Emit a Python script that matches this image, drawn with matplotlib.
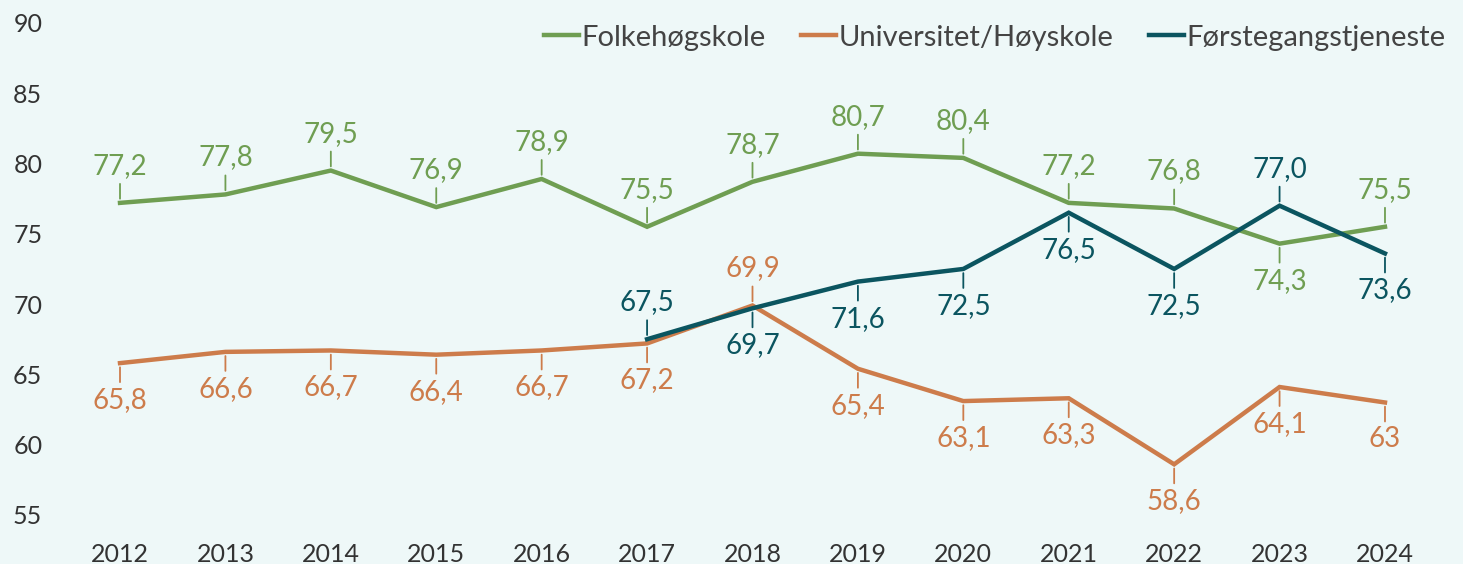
import matplotlib.pyplot as plt

years = list(range(2012, 2025))

folk = [77.2, 77.8, 79.5, 76.9, 78.9, 75.5, 78.7, 80.7, 80.4, 77.2, 76.8, 74.3, 75.5]
folk_lbl = ["77,2", "77,8", "79,5", "76,9", "78,9", "75,5", "78,7", "80,7", "80,4", "77,2", "76,8", "74,3", "75,5"]
folk_side = [1, 1, 1, 1, 1, 1, 1, 1, 1, 1, 1, -1, 1]

uni = [65.8, 66.6, 66.7, 66.4, 66.7, 67.2, 69.9, 65.4, 63.1, 63.3, 58.6, 64.1, 63.0]
uni_lbl = ["65,8", "66,6", "66,7", "66,4", "66,7", "67,2", "69,9", "65,4", "63,1", "63,3", "58,6", "64,1", "63"]
uni_side = [-1, -1, -1, -1, -1, -1, 1, -1, -1, -1, -1, -1, -1]

forst_years = list(range(2017, 2025))
forst = [67.5, 69.7, 71.6, 72.5, 76.5, 72.5, 77.0, 73.6]
forst_lbl = ["67,5", "69,7", "71,6", "72,5", "76,5", "72,5", "77,0", "73,6"]
forst_side = [1, -1, -1, -1, -1, -1, 1, -1]

GREEN = "#6f9e52"
ORANGE = "#cd7c4b"
TEAL = "#0b5560"
BG = "#eef8f8"

plt.rcParams['font.family'] = ['Lato', 'DejaVu Sans']

fig = plt.figure(figsize=(14.63, 5.64), dpi=100, facecolor=BG)
ax = fig.add_axes([0.046, 0.087, 0.9367, 0.8723], facecolor=BG)

series = [
    (years, folk, folk_lbl, folk_side, GREEN, "Folkehøgskole"),
    (years, uni, uni_lbl, uni_side, ORANGE, "Universitet/Høyskole"),
    (forst_years, forst, forst_lbl, forst_side, TEAL, "Førstegangstjeneste"),
]

for xs, ys, lbls, sides, col, name in series:
    ax.plot(xs, ys, color=col, lw=3.2, label=name, solid_joinstyle='miter', zorder=3)
    for x, y, t, s in zip(xs, ys, lbls, sides):
        # short leader line, then the value
        ax.annotate('', xy=(x, y), xytext=(0, 19 * s), textcoords='offset pixels',
                    arrowprops=dict(arrowstyle='-', color=col, lw=1.3, shrinkA=0, shrinkB=3),
                    annotation_clip=False)
        ax.annotate(t, xy=(x, y), xytext=(0, 37 * s), textcoords='offset pixels',
                    ha='center', va='center', fontsize=20, color=col,
                    annotation_clip=False)

ax.set_xlim(2011.5, 2024.5)
ax.set_ylim(55, 90)
ax.set_yticks(range(55, 91, 5))
ax.set_xticks(years)
ax.tick_params(axis='both', length=0, labelsize=18, colors='#333333')
ax.tick_params(axis='y', pad=18)
ax.tick_params(axis='x', pad=20)
for sp in ax.spines.values():
    sp.set_visible(False)

ax.legend(loc='upper right', bbox_to_anchor=(1.025, 1.05), frameon=False, ncol=3,
          fontsize=21, handlelength=1.2, handletextpad=0.1, columnspacing=1.2,
          labelcolor='#444444')

fig.savefig('out.png', dpi=100, facecolor=BG)
